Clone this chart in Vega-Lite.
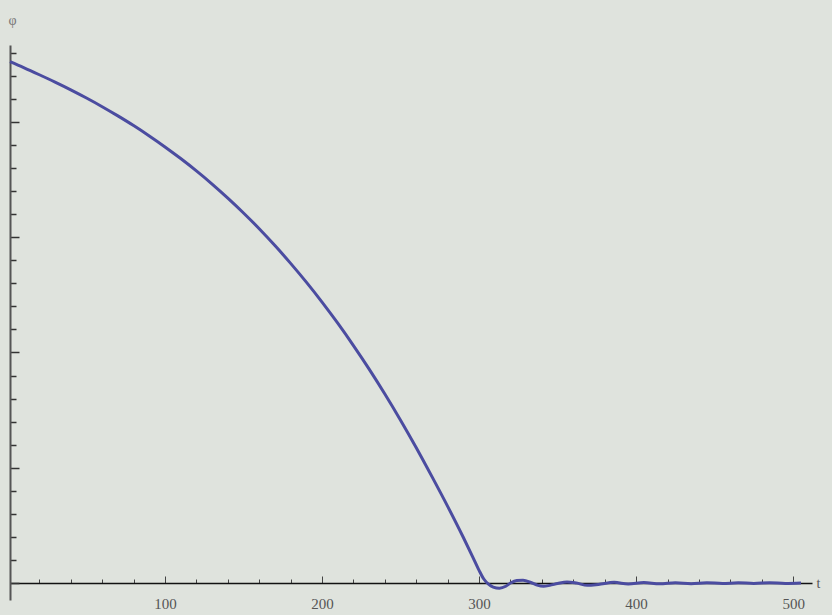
{
  "$schema": "https://vega.github.io/schema/vega-lite/v6.json",
  "width": 802,
  "height": 555,
  "autosize": {"type": "none"},
  "padding": {"left": 10, "top": 45, "right": 20, "bottom": 15},
  "background": "#dfe3dd",
  "config": {"view": {"stroke": null}},
  "data": {"values": [
    {"t": 1.3, "phi": 4.522}, {"t": 10, "phi": 4.471}, {"t": 20, "phi": 4.409}, {"t": 30, "phi": 4.345},
    {"t": 40, "phi": 4.278}, {"t": 50, "phi": 4.207}, {"t": 60, "phi": 4.132}, {"t": 70, "phi": 4.052},
    {"t": 80, "phi": 3.968}, {"t": 90, "phi": 3.878}, {"t": 100, "phi": 3.783}, {"t": 110, "phi": 3.682},
    {"t": 120, "phi": 3.575}, {"t": 130, "phi": 3.461}, {"t": 140, "phi": 3.339}, {"t": 150, "phi": 3.21},
    {"t": 160, "phi": 3.073}, {"t": 170, "phi": 2.927}, {"t": 180, "phi": 2.773}, {"t": 190, "phi": 2.61},
    {"t": 200, "phi": 2.437}, {"t": 210, "phi": 2.254}, {"t": 220, "phi": 2.06}, {"t": 230, "phi": 1.856},
    {"t": 240, "phi": 1.64}, {"t": 250, "phi": 1.413}, {"t": 260, "phi": 1.174}, {"t": 270, "phi": 0.923},
    {"t": 280, "phi": 0.665}, {"t": 290, "phi": 0.395}, {"t": 296, "phi": 0.225}, {"t": 300, "phi": 0.11},
    {"t": 303, "phi": 0.035}, {"t": 306, "phi": -0.01}, {"t": 309, "phi": -0.035}, {"t": 313, "phi": -0.045},
    {"t": 317, "phi": -0.028}, {"t": 320, "phi": 0.0}, {"t": 324, "phi": 0.022}, {"t": 328, "phi": 0.024},
    {"t": 333, "phi": 0.005}, {"t": 337, "phi": -0.018}, {"t": 341, "phi": -0.028}, {"t": 345, "phi": -0.02},
    {"t": 350, "phi": -0.004}, {"t": 356, "phi": 0.01}, {"t": 362, "phi": 0.0}, {"t": 369, "phi": -0.02},
    {"t": 376, "phi": -0.012}, {"t": 386, "phi": 0.006}, {"t": 395, "phi": -0.008}, {"t": 405, "phi": 0.004},
    {"t": 415, "phi": -0.007}, {"t": 425, "phi": 0.003}, {"t": 435, "phi": -0.005}, {"t": 445, "phi": 0.003},
    {"t": 455, "phi": -0.004}, {"t": 465, "phi": 0.002}, {"t": 475, "phi": -0.003}, {"t": 485, "phi": 0.002},
    {"t": 495, "phi": -0.003}, {"t": 505, "phi": 0.001}
  ]},
  "resolve": {"axis": {"x": "independent", "y": "independent"}},
  "layer": [
    {
      "mark": {"type": "line", "strokeOpacity": 0},
      "encoding": {
        "x": {"field": "t", "type": "quantitative",
              "scale": {"domain": [1.3, 512], "nice": false, "zero": false},
              "axis": {"orient": "bottom", "offset": -17, "values": [20,40,60,80,120,140,160,180,220,240,260,280,320,340,360,380,420,440,460,480],
                       "tickSize": -4, "tickColor": "#444", "tickWidth": 1, "labels": false, "domain": false, "grid": false, "title": null}},
        "y": {"field": "phi", "type": "quantitative",
              "scale": {"domain": [-0.147, 4.667], "nice": false, "zero": false},
              "axis": {"orient": "left", "values": [0.2,0.4,0.6,0.8,1.2,1.4,1.6,1.8,2.2,2.4,2.6,2.8,3.2,3.4,3.6,3.8,4.2,4.4,4.6],
                       "tickSize": -6, "tickColor": "#333", "tickWidth": 1.5, "labels": false, "domain": false, "grid": false, "title": null}}
      }
    },
    {
      "mark": {"type": "line", "color": "#4b4ca0", "strokeWidth": 3, "interpolate": "monotone"},
      "encoding": {
        "x": {"field": "t", "type": "quantitative",
              "axis": {"orient": "bottom", "offset": -17, "values": [100,200,300,400,500],
                       "tickSize": -7, "tickColor": "#444", "tickWidth": 1,
                       "domainColor": "#111", "domainWidth": 1.5,
                       "labelFont": "Liberation Serif", "labelFontSize": 15, "labelColor": "#555",
                       "labelPadding": 20, "grid": false,
                       "title": "t", "titleFont": "Liberation Serif", "titleFontSize": 14, "titleFontWeight": "normal",
                       "titleColor": "#555", "titleX": 806, "titleY": 0, "titleAlign": "left", "titleBaseline": "middle"}},
        "y": {"field": "phi", "type": "quantitative",
              "axis": {"orient": "left", "values": [0,1,2,3,4],
                       "tickSize": -9, "tickColor": "#333", "tickWidth": 1.5,
                       "domainColor": "#555", "domainWidth": 2, "labels": false, "grid": false,
                       "title": "φ", "titleFont": "Liberation Serif", "titleFontSize": 14, "titleFontWeight": "normal",
                       "titleColor": "#777", "titleAngle": 0, "titleX": 2, "titleY": -25, "titleAlign": "center", "titleBaseline": "middle"}}
      }
    }
  ]
}
